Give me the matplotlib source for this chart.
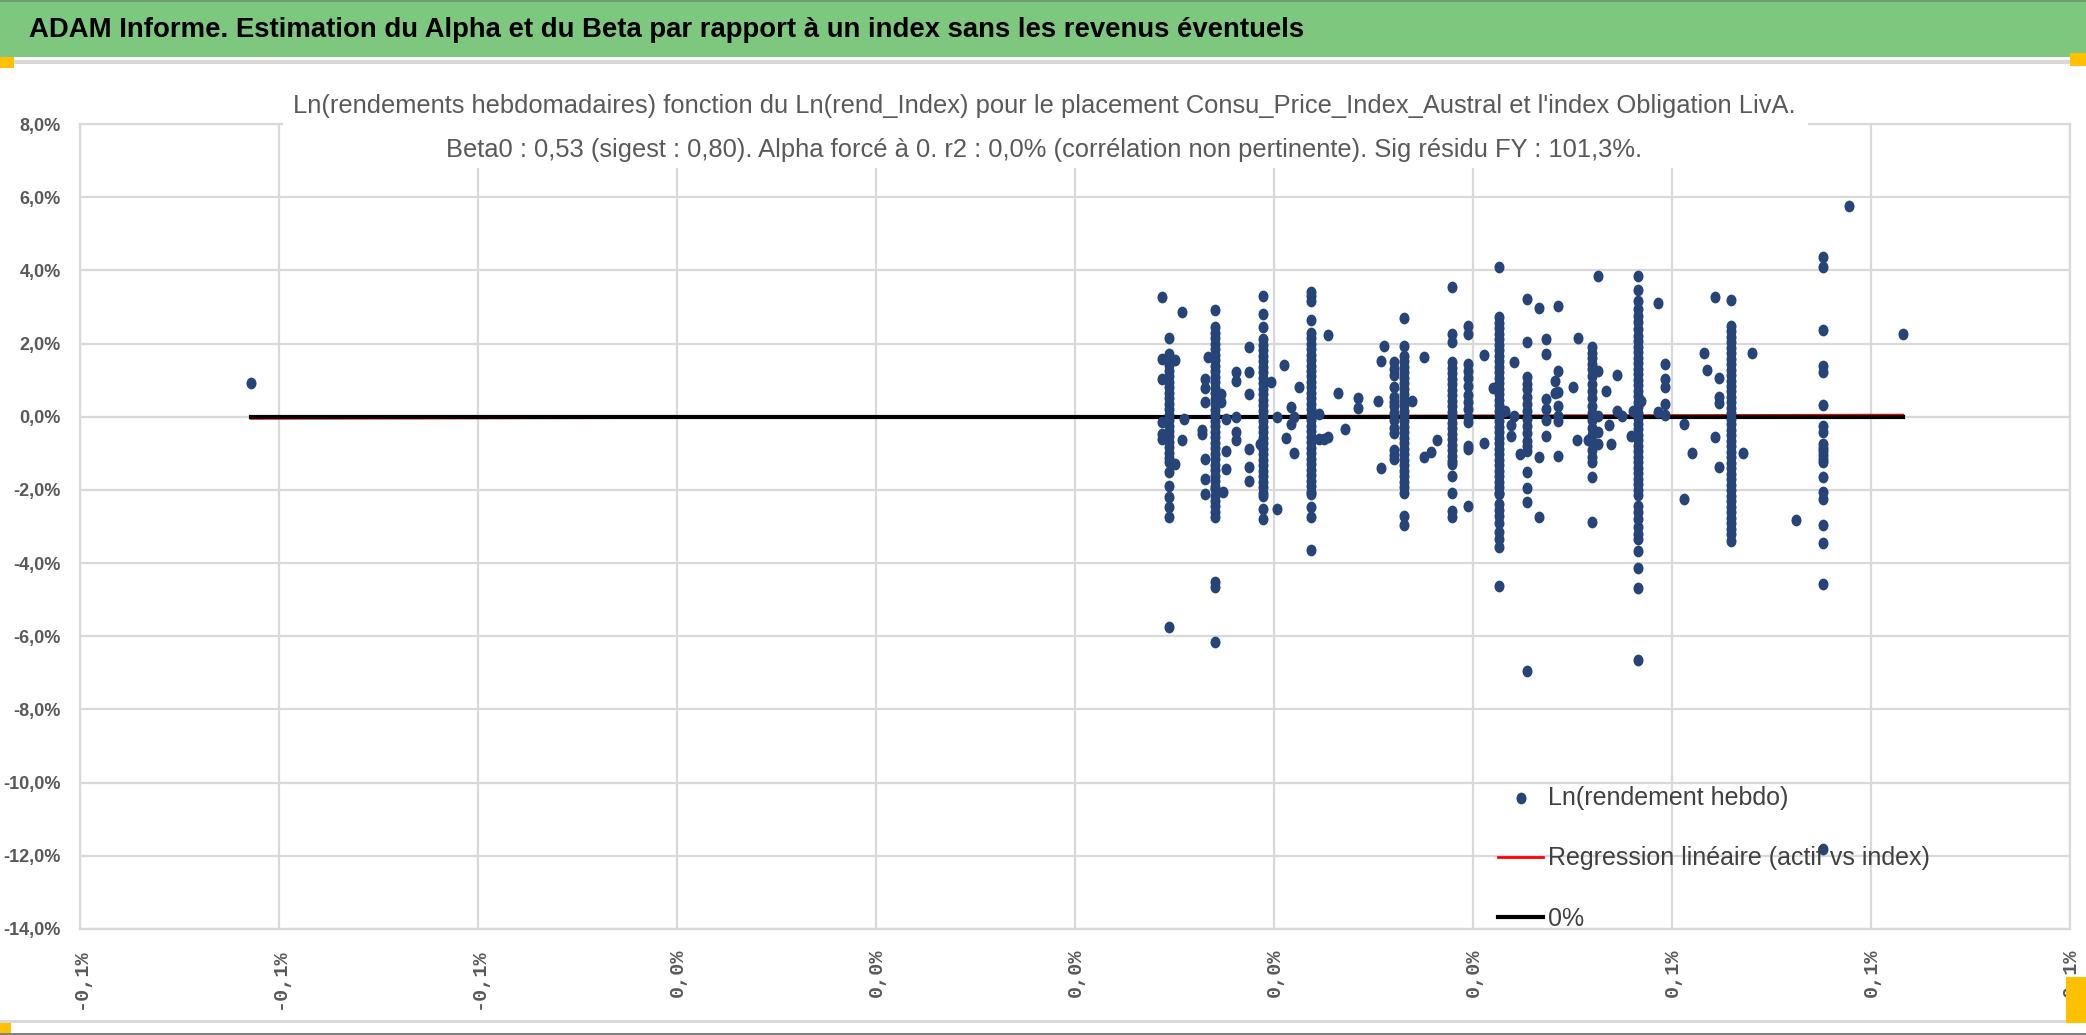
import matplotlib.pyplot as plt
from matplotlib.patches import Rectangle
from matplotlib.path import Path
from matplotlib.transforms import Affine2D
from matplotlib.ticker import FuncFormatter, MultipleLocator

plt.rcParams['font.family'] = ['Liberation Sans', 'DejaVu Sans']

# Ln(rend_Index) per column (in %), and the weekly asset returns (in %) at that index value
index_x = [-0.0828, 0.0087, 0.0094, 0.0101, 0.0108, 0.0110,
           0.0128, 0.0131, 0.0134, 0.0141, 0.0147, 0.0149, 0.0152, 0.0162, 0.0175,
           0.0186, 0.0189, 0.0197, 0.0203, 0.0210, 0.0212, 0.0217, 0.0220, 0.0225,
           0.0237, 0.0245, 0.0250, 0.0254, 0.0264, 0.0271,
           0.0284, 0.0305, 0.0308, 0.0311, 0.0321, 0.0331, 0.0339, 0.0351, 0.0358, 0.0364,
           0.0379, 0.0395, 0.0411, 0.0420, 0.0426, 0.0432, 0.0438, 0.0441, 0.0447,
           0.0454, 0.0466, 0.0473,
           0.0482, 0.0485, 0.0501, 0.0505, 0.0506, 0.0516, 0.0520, 0.0526, 0.0534, 0.0537,
           0.0539, 0.0545, 0.0550, 0.0559, 0.0561, 0.0566, 0.0569, 0.0586, 0.0593,
           0.0612, 0.0620, 0.0632, 0.0635, 0.0643, 0.0647, 0.0659, 0.0671, 0.0680,
           0.0725, 0.0752, 0.0778, 0.0832]

asset_y = [
    [0.92],
    [3.26, 1.58, 1.03, -0.14, -0.47, -0.61],
    [2.15, 1.71, 1.58, 1.56, 1.41, 1.26, 1.11, 0.96, 0.81, 0.66, 0.51, 0.36, 0.21, 0.06, -0.09,
     -0.24, -0.39, -0.54, -0.69, -0.84, -0.99, -1.14, -1.25, -1.5, -1.9, -2.19, -2.48, -2.75, -5.76],
    [1.56, -1.29],
    [2.85, -0.63],
    [-0.06],
    [-0.47, -0.35],
    [1.03, 0.78, 0.39, -1.16, -1.7, -2.11],
    [1.64],
    [2.92, 2.44, 2.29, 2.14, 1.99, 1.84, 1.69, 1.54, 1.39, 1.24, 1.09, 0.94, 0.79, 0.64, 0.49, 0.34,
     0.19, 0.04, -0.11, -0.26, -0.41, -0.56, -0.71, -0.86, -1.01, -1.16, -1.31, -1.46, -1.61, -1.76,
     -1.91, -1.98, -2.16, -2.3, -2.45, -2.6, -2.75, -4.53, -4.64, -6.17],
    [0.62, 0.39],
    [-2.07],
    [-0.06, -0.93, -1.43],
    [1.21, 0.98, -0.02, -0.43, -0.63],
    [1.91, 1.23, 0.62, -0.87, -1.38, -1.75],
    [-0.75],
    [3.29, 2.82, 2.44, 2.12, 1.97, 1.82, 1.67, 1.52, 1.37, 1.22, 1.07, 0.92, 0.77, 0.62, 0.47, 0.32,
     0.17, 0.02, -0.13, -0.28, -0.43, -0.58, -0.73, -0.88, -1.03, -1.18, -1.33, -1.48, -1.63, -1.78,
     -1.93, -2.08, -2.16, -2.52, -2.8],
    [0.96],
    [-0.02, -2.51],
    [1.41],
    [-0.58],
    [0.26, -0.2],
    [-0.02, -0.99],
    [0.82],
    [3.4, 3.3, 3.17, 2.65, 2.3, 2.15, 2.0, 1.85, 1.7, 1.55, 1.4, 1.25, 1.1, 0.95, 0.8, 0.65, 0.5,
     0.35, 0.2, 0.05, -0.1, -0.25, -0.4, -0.55, -0.7, -0.85, -1.0, -1.15, -1.3, -1.45, -1.6, -1.75,
     -1.9, -2.05, -2.11, -2.48, -2.75, -3.64],
    [0.07, -0.61],
    [-0.61],
    [2.24, -0.55],
    [0.65],
    [-0.34],
    [0.51, 0.24],
    [0.44],
    [1.53, -1.41],
    [1.92],
    [1.49, 1.3, 1.15, 0.82, 0.55, 0.4, 0.3, 0.1, -0.1, -0.3, -0.45, -0.9, -1.05, -1.16],
    [2.71, 1.94, 1.67, 1.52, 1.37, 1.22, 1.07, 0.92, 0.77, 0.62, 0.47, 0.32, 0.17, 0.02, -0.13,
     -0.28, -0.43, -0.58, -0.73, -0.88, -1.03, -1.18, -1.33, -1.48, -1.63, -1.78, -1.93, -2.08,
     -2.71, -2.96],
    [0.44],
    [1.62, -1.11],
    [-0.97],
    [-0.63],
    [3.55, 2.26, 2.03, 1.49, 1.34, 1.19, 1.04, 0.89, 0.74, 0.59, 0.44, 0.29, 0.14, -0.01, -0.16,
     -0.31, -0.46, -0.61, -0.76, -0.91, -1.06, -1.21, -1.29, -1.63, -2.09, -2.57, -2.75],
    [2.49, 2.26, 1.44, 1.25, 1.05, 0.85, 0.6, 0.4, 0.2, 0.0, -0.15, -0.79, -0.88, -2.43],
    [1.69, -0.73],
    [0.78],
    [4.08, 2.72, 2.57, 2.42, 2.27, 2.12, 1.97, 1.82, 1.67, 1.52, 1.37, 1.22, 1.07, 0.92, 0.77, 0.62,
     0.47, 0.32, 0.17, 0.02, -0.13, -0.28, -0.43, -0.58, -0.73, -0.88, -1.03, -1.18, -1.33, -1.48,
     -1.63, -1.78, -1.93, -2.08, -2.11, -2.39, -2.55, -2.7, -2.9, -3.15, -3.35, -3.57, -4.62],
    [0.16],
    [-0.23, -0.52],
    [1.5, 0.03],
    [-1.02],
    [3.23, 2.03, 1.08, 0.9, 0.75, 0.55, 0.35, 0.15, -0.05, -0.25, -0.45, -0.65, -0.8, -0.93,
     -1.5, -1.96, -2.32, -6.94],
    [2.97, -1.11, -2.75],
    [2.12, 1.71, 0.48, 0.2, -0.1, -0.52],
    [0.98, 0.64],
    [3.03, 1.26, 0.67, 0.3, 0.03, -0.11, -1.08],
    [0.8],
    [-0.63],
    [2.15],
    [-0.63],
    [1.9, 1.75, 1.6, 1.45, 1.3, 1.1, 0.9, 0.7, 0.5, 0.3, 0.1, -0.1, -0.3, -0.5, -0.7, -0.9, -1.1,
     -1.25, -1.64, -2.87],
    [3.85, 1.26, 0.03, -0.43, -0.75],
    [0.71],
    [-0.23],
    [-0.75],
    [1.15, 0.16],
    [0.03],
    [-0.52],
    [0.16],
    [3.85, 3.47, 3.17, 2.94, 2.76, 2.58, 2.4, 2.21, 2.06, 1.91, 1.76, 1.61, 1.46, 1.31, 1.16, 1.01,
     0.86, 0.71, 0.56, 0.41, 0.26, 0.11, -0.04, -0.19, -0.34, -0.49, -0.64, -0.79, -0.94, -1.09,
     -1.24, -1.39, -1.54, -1.69, -1.84, -1.99, -2.14, -2.43, -2.6, -2.8, -3.0, -3.2, -3.34, -3.66,
     -4.14, -4.67, -6.64],
    [0.44],
    [3.11, 0.12],
    [1.44, 1.03, 0.8, 0.35, 0.05],
    [-0.2, -2.25],
    [-0.99],
    [1.74],
    [1.28],
    [3.26, -0.55],
    [1.06, 0.53, 0.37, -1.38],
    [3.19, 2.49, 2.34, 2.19, 2.04, 1.89, 1.74, 1.59, 1.44, 1.29, 1.14, 0.99, 0.84, 0.69, 0.54,
     0.39, 0.24, 0.09, -0.06, -0.21, -0.36, -0.51, -0.66, -0.81, -0.96, -1.11, -1.26, -1.41, -1.56,
     -1.71, -1.86, -2.01, -2.16, -2.31, -2.46, -2.61, -2.76, -2.91, -3.06, -3.21, -3.39],
    [-0.99],
    [1.74],
    [-2.82],
    [4.36, 4.08, 2.38, 1.39, 1.21, 0.33, -0.25, -0.43, -0.75, -0.85, -0.95, -1.05, -1.15, -1.25,
     -1.66, -2.07, -2.25, -2.96, -3.44, -4.57, -11.8],
    [5.77],
    [2.26],
]

beta0 = 0.53

title = "ADAM Informe. Estimation du Alpha et du Beta par rapport à un index sans les revenus éventuels"
subtitle1 = ("Ln(rendements hebdomadaires) fonction du Ln(rend_Index) pour le placement "
             "Consu_Price_Index_Austral et l'index Obligation LivA.")
subtitle2 = ("Beta0 : 0,53 (sigest : 0,80). Alpha forcé à 0. r2 : 0,0% (corrélation non pertinente). "
             "Sig résidu FY : 101,3%.")
labels = ["Ln(rendement hebdo)", "Regression linéaire (actif vs index)", "0%"]

# flatten the columns into points
xs, ys = [], []
for xv, col in zip(index_x, asset_y):
    xs += [xv] * len(col)
    ys += col

W, H = 2086, 1035
fig = plt.figure(figsize=(W / 100, H / 100), dpi=100)
fig.patch.set_facecolor('white')


def fx(px):
    return px / W


def fy(py):
    return 1 - py / H


ax = fig.add_axes([fx(80), fy(929), fx(2070) - fx(80), fy(124) - fy(929)])
ax.set_xlim(-0.1, 0.1)
ax.set_ylim(-14, 8)
ax.xaxis.set_major_locator(MultipleLocator(0.02))
ax.yaxis.set_major_locator(MultipleLocator(2))


def pct(v, pos):
    s = f"{v:.1f}".replace('.', ',')
    if s == "-0,0":
        s = "0,0"
    return s + "%"


ax.xaxis.set_major_formatter(FuncFormatter(pct))
ax.yaxis.set_major_formatter(FuncFormatter(pct))
ax.grid(True, color='#D9D9D9', lw=1.6)
ax.set_axisbelow(True)
for sp in ax.spines.values():
    sp.set_color('#D9D9D9')
    sp.set_linewidth(1.6)
ax.tick_params(length=0, colors='#595959')
ax.tick_params(axis='y', pad=14, labelsize=13)
ax.tick_params(axis='x', pad=14, labelsize=14.5, labelrotation=90)
for lab in ax.get_yticklabels():
    lab.set_fontweight('bold')
for lab in ax.get_xticklabels():
    lab.set_fontfamily('Liberation Mono')
    lab.set_fontweight('bold')

# slightly tall dot, like the reference markers
dot = Path.unit_circle().transformed(Affine2D().scale(0.85, 1.0))
sc = ax.scatter(xs, ys, s=72, marker=dot, color='#264478', linewidths=0, zorder=3,
                label=labels[0])
xmin, xmax = min(xs), max(xs)
reg, = ax.plot([xmin, xmax], [beta0 * xmin, beta0 * xmax], color='#FF0000', lw=2, zorder=2,
               label=labels[1])
zero, = ax.plot([xmin, xmax], [0, 0], color='black', lw=3, zorder=2, label=labels[2])

leg = ax.legend(handles=[sc, reg, zero], loc='upper left',
                bbox_to_anchor=(fx(1498), fy(786)), bbox_transform=fig.transFigure,
                frameon=False, fontsize=18, labelspacing=1.45, handlelength=1.8,
                handletextpad=0.2, borderpad=0, borderaxespad=0, scatterpoints=1)
for t in leg.get_texts():
    t.set_color('#404040')

# white title box that hides the top of the grid
fig.patches.append(Rectangle((fx(283), fy(168)), fx(1808) - fx(283), fy(72) - fy(168),
                             transform=fig.transFigure, facecolor='white', edgecolor='none',
                             zorder=1))
fig.text(fx(1044), fy(106), subtitle1, ha='center', va='center', fontsize=18.4, color='#595959',
         zorder=3)
fig.text(fx(1044), fy(150), subtitle2, ha='center', va='center', fontsize=18.4, color='#595959',
         zorder=3)

# green banner and sheet decorations
fig.patches.append(Rectangle((0, fy(57)), 1, 1 - fy(57), transform=fig.transFigure,
                             facecolor='#7EC77E', edgecolor='none', zorder=1))
fig.patches.append(Rectangle((0, fy(2)), 1, 1 - fy(2), transform=fig.transFigure,
                             facecolor='#6E9E6E', edgecolor='none', zorder=1))
fig.patches.append(Rectangle((0, fy(64)), 1, fy(60) - fy(64), transform=fig.transFigure,
                             facecolor='#D9D9D9', edgecolor='none', zorder=1))
fig.patches.append(Rectangle((0, fy(1023)), 1, fy(1020) - fy(1023), transform=fig.transFigure,
                             facecolor='#D9D9D9', edgecolor='none', zorder=1))
fig.patches.append(Rectangle((0, 0), 1, fy(1033), transform=fig.transFigure,
                             facecolor='#808080', edgecolor='none', zorder=1))
for (x0, y0, x1, y1) in [(0, 57, 14, 68), (2070, 53, 2086, 66), (0, 1023, 11, 1033),
                         (2066, 977, 2086, 1023)]:
    fig.patches.append(Rectangle((fx(x0), fy(y1)), fx(x1) - fx(x0), fy(y0) - fy(y1),
                                 transform=fig.transFigure, facecolor='#FFC000',
                                 edgecolor='none', zorder=1))
fig.text(fx(29), fy(30), title, ha='left', va='center', fontsize=19.8, fontweight='bold',
         color='black', zorder=3)

fig.savefig('out.png', dpi=100)
